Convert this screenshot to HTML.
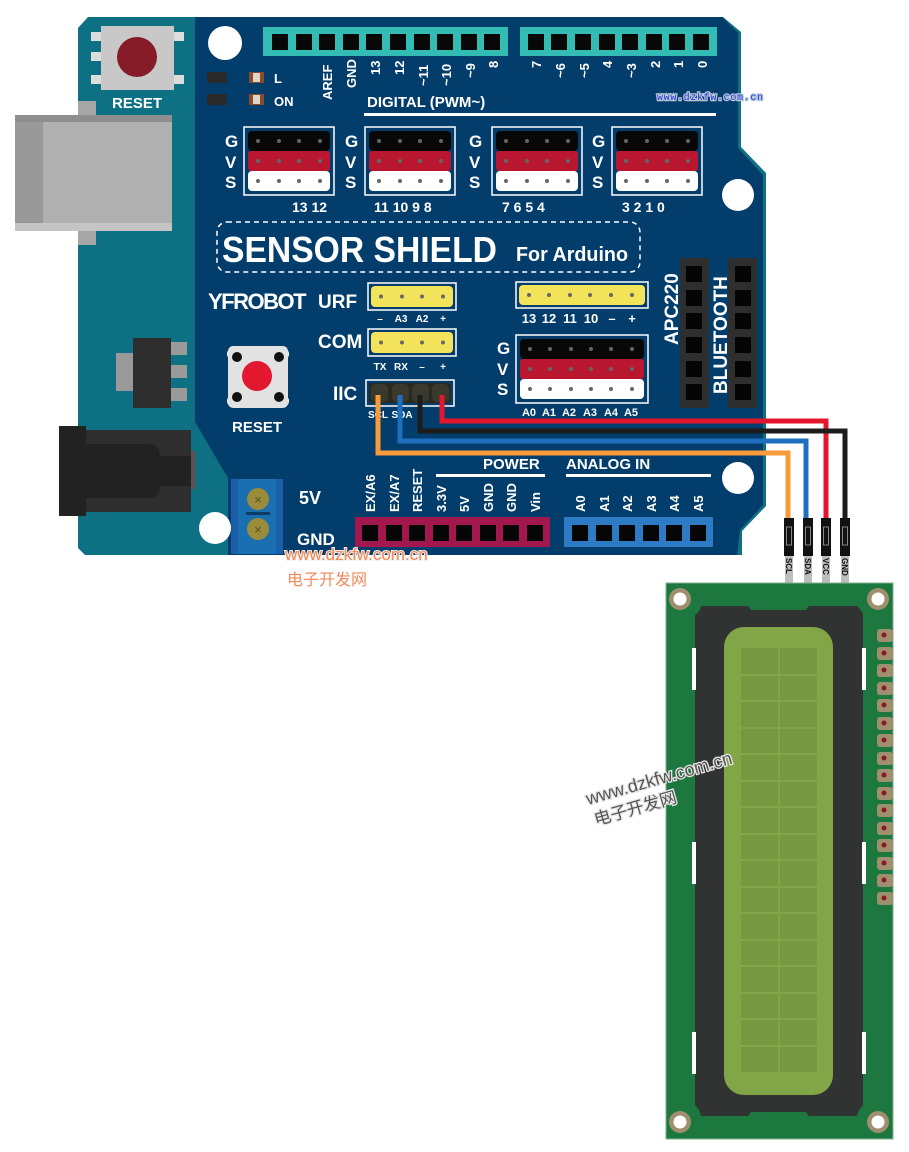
<!DOCTYPE html>
<html><head><meta charset="utf-8"><style>
html,body{margin:0;padding:0;background:#fff;}
svg{display:block;font-family:"Liberation Sans","Noto Sans CJK SC",sans-serif;}
.w{fill:#fff;font-weight:bold;}
</style></head><body>
<svg width="909" height="1152" viewBox="0 0 909 1152" xmlns="http://www.w3.org/2000/svg">
<!-- Arduino teal board -->
<polygon points="88,17 723,17 741,32 741,147 766,173 766,506 742,531 742,555 85,555 78,548 78,28" fill="#0e7083"/>
<!-- USB -->
<rect x="78" y="101" width="18" height="16" fill="#a7a7a7"/>
<rect x="78" y="228" width="18" height="17" fill="#a7a7a7"/>
<rect x="15" y="115" width="157" height="116" fill="#b0b0b0"/>
<rect x="15" y="115" width="28" height="116" fill="#999"/>
<rect x="15" y="115" width="157" height="7" fill="#8e8e8e"/>
<rect x="15" y="223" width="157" height="8" fill="#c4c4c4"/>
<!-- reset top -->
<rect x="91" y="32" width="12" height="9" fill="#ddd"/><rect x="91" y="52" width="12" height="9" fill="#ddd"/><rect x="91" y="75" width="12" height="9" fill="#ddd"/>
<rect x="172" y="32" width="12" height="9" fill="#ddd"/><rect x="172" y="75" width="12" height="9" fill="#ddd"/>
<rect x="101" y="26" width="73" height="64" fill="#c8c8c8"/>
<circle cx="137" cy="57" r="20" fill="#851c27"/>
<text x="137" y="108" class="w" font-size="15" text-anchor="middle">RESET</text>
<!-- regulator -->
<rect x="116" y="353" width="18" height="38" fill="#9a9a9a"/>
<rect x="170" y="342" width="17" height="13" fill="#9a9a9a"/><rect x="170" y="365" width="17" height="13" fill="#9a9a9a"/><rect x="170" y="388" width="17" height="13" fill="#9a9a9a"/>
<rect x="133" y="338" width="38" height="70" fill="#2e2e2e"/>
<!-- DC jack -->
<rect x="190" y="451" width="6" height="38" fill="#555"/>
<rect x="86" y="430" width="105" height="82" fill="#2e2e2e"/>
<path d="M86,444 H150 Q160,444 160,458 V485 Q160,498 150,498 H86 Z" fill="#222"/>
<rect x="150" y="456" width="41" height="30" fill="#222"/>
<rect x="59" y="426" width="27" height="90" fill="#222"/>
<!-- Shield -->
<polygon points="195,17 722,17 738,33 738,148 763,175 763,505 740,530 737,555 228,555 228,478 195,422" fill="#033d6b"/>
<!-- holes -->
<circle cx="225" cy="43" r="17" fill="#fff"/>
<circle cx="738" cy="195" r="16" fill="#fff"/>
<circle cx="738" cy="478" r="16" fill="#fff"/>
<circle cx="215" cy="528" r="16" fill="#fff"/>
<!-- top headers -->
<rect x="263" y="27" width="245" height="29" fill="#32bcb4"/>
<rect x="520" y="27" width="197" height="29" fill="#32bcb4"/>
<g fill="#080808">
<rect x="272" y="34" width="16" height="16"/><rect x="296" y="34" width="16" height="16"/><rect x="319" y="34" width="16" height="16"/><rect x="343" y="34" width="16" height="16"/><rect x="366" y="34" width="16" height="16"/><rect x="390" y="34" width="16" height="16"/><rect x="414" y="34" width="16" height="16"/><rect x="437" y="34" width="16" height="16"/><rect x="461" y="34" width="16" height="16"/><rect x="484" y="34" width="16" height="16"/>
<rect x="528" y="34" width="16" height="16"/><rect x="551" y="34" width="16" height="16"/><rect x="575" y="34" width="16" height="16"/><rect x="599" y="34" width="16" height="16"/><rect x="622" y="34" width="16" height="16"/><rect x="646" y="34" width="16" height="16"/><rect x="669" y="34" width="16" height="16"/><rect x="693" y="34" width="16" height="16"/>
</g>
<g class="w" font-size="13">
<text transform="translate(332,100) rotate(-90)">AREF</text>
<text transform="translate(356,88) rotate(-90)">GND</text>
<text transform="translate(380,75) rotate(-90)">13</text>
<text transform="translate(404,75) rotate(-90)">12</text>
<text transform="translate(428,86) rotate(-90)">~11</text>
<text transform="translate(451,86) rotate(-90)">~10</text>
<text transform="translate(475,78) rotate(-90)">~9</text>
<text transform="translate(498,68) rotate(-90)">8</text>
<text transform="translate(541,68) rotate(-90)">7</text>
<text transform="translate(565,78) rotate(-90)">~6</text>
<text transform="translate(589,78) rotate(-90)">~5</text>
<text transform="translate(612,68) rotate(-90)">4</text>
<text transform="translate(636,78) rotate(-90)">~3</text>
<text transform="translate(660,68) rotate(-90)">2</text>
<text transform="translate(683,68) rotate(-90)">1</text>
<text transform="translate(707,68) rotate(-90)">0</text>
</g>
<text x="367" y="107" class="w" font-size="15">DIGITAL  (PWM~)</text>
<rect x="364" y="113" width="352" height="3" fill="#fff"/>
<!-- LEDs -->
<rect x="207" y="72" width="20" height="11" fill="#2a2a2a"/><rect x="207" y="94" width="20" height="11" fill="#2a2a2a"/>
<rect x="249" y="72" width="15" height="11" fill="#8a4b2a"/><rect x="253" y="73" width="7" height="9" fill="#e0d4c8"/>
<rect x="249" y="94" width="15" height="11" fill="#8a4b2a"/><rect x="253" y="95" width="7" height="9" fill="#e0d4c8"/>
<text x="274" y="83" class="w" font-size="13">L</text>
<text x="274" y="106" class="w" font-size="13">ON</text>
<!-- GVS blocks -->
<defs>
<g id="gvs4">
<rect x="0" y="0" width="90" height="68" fill="none" stroke="#fff" stroke-width="1.5"/>
<rect x="4" y="4" width="82" height="20" rx="4" fill="#080808"/>
<rect x="4" y="24" width="82" height="20" rx="3" fill="#b8172f"/>
<rect x="4" y="44" width="82" height="20" rx="4" fill="#fff"/>
<g fill="#666"><circle cx="14" cy="14" r="2"/><circle cx="35" cy="14" r="2"/><circle cx="55" cy="14" r="2"/><circle cx="76" cy="14" r="2"/>
<circle cx="14" cy="34" r="2"/><circle cx="35" cy="34" r="2"/><circle cx="55" cy="34" r="2"/><circle cx="76" cy="34" r="2"/>
<circle cx="14" cy="54" r="2"/><circle cx="35" cy="54" r="2"/><circle cx="55" cy="54" r="2"/><circle cx="76" cy="54" r="2"/></g>
</g>
<g id="gvsl" class="w" font-size="17"><text x="0" y="0">G</text><text x="0" y="21">V</text><text x="0" y="41">S</text></g>
</defs>
<use href="#gvs4" x="244" y="127"/><use href="#gvs4" x="365" y="127"/><use href="#gvs4" x="492" y="127"/><use href="#gvs4" x="612" y="127"/>
<use href="#gvsl" x="225" y="147"/><use href="#gvsl" x="345" y="147"/><use href="#gvsl" x="469" y="147"/><use href="#gvsl" x="592" y="147"/>
<g class="w" font-size="14">
<text x="292" y="212">13 12</text>
<text x="374" y="212">11 10  9   8</text>
<text x="502" y="212">7   6   5   4</text>
<text x="622" y="212">3   2   1   0</text>
</g>
<!-- SENSOR SHIELD -->
<rect x="217" y="222" width="423" height="50" rx="10" fill="none" stroke="#fff" stroke-width="1.5" stroke-dasharray="5,4"/>
<text x="222" y="262" class="w" font-size="36" textLength="275" lengthAdjust="spacingAndGlyphs">SENSOR  SHIELD</text>
<text x="516" y="261" class="w" font-size="20" textLength="112" lengthAdjust="spacingAndGlyphs">For  Arduino</text>
<text x="208" y="309" class="w" font-size="22" letter-spacing="-1.5">YFROBOT</text>
<text x="318" y="308" class="w" font-size="19">URF</text>
<text x="318" y="348" class="w" font-size="19">COM</text>
<text x="333" y="400" class="w" font-size="19">IIC</text>
<!-- yellow headers -->
<defs>
<g id="y4"><rect x="0" y="0" width="88" height="27" fill="none" stroke="#fff" stroke-width="1.5"/><rect x="3" y="3" width="82" height="21" rx="4" fill="#f2e35a"/>
<g fill="#666"><circle cx="13" cy="13.5" r="2"/><circle cx="34" cy="13.5" r="2"/><circle cx="54" cy="13.5" r="2"/><circle cx="75" cy="13.5" r="2"/></g></g>
</defs>
<use href="#y4" x="368" y="283"/><use href="#y4" x="368" y="329"/>
<g class="w" font-size="10" text-anchor="middle">
<text x="380" y="322">–</text><text x="401" y="322">A3</text><text x="422" y="322">A2</text><text x="443" y="322">+</text>
<text x="380" y="370">TX</text><text x="401" y="370">RX</text><text x="422" y="370">–</text><text x="443" y="370">+</text>
<text x="378" y="418">SCL</text><text x="402" y="418">SDA</text>
</g>
<rect x="366" y="380" width="88" height="26" fill="none" stroke="#fff" stroke-width="1.5"/>
<rect x="369" y="383" width="82" height="20" rx="3" fill="#2a2a22"/>
<g fill="#39392c"><rect x="371" y="384" width="17" height="18" rx="5"/><rect x="392" y="384" width="17" height="18" rx="5"/><rect x="412" y="384" width="17" height="18" rx="5"/><rect x="432" y="384" width="17" height="18" rx="5"/></g>
<!-- right yellow 6 -->
<rect x="516" y="282" width="132" height="26" fill="none" stroke="#fff" stroke-width="1.5"/>
<rect x="519" y="285" width="126" height="20" rx="4" fill="#f2e35a"/>
<g fill="#666"><circle cx="529" cy="295" r="2"/><circle cx="549" cy="295" r="2"/><circle cx="570" cy="295" r="2"/><circle cx="590" cy="295" r="2"/><circle cx="611" cy="295" r="2"/><circle cx="632" cy="295" r="2"/></g>
<g class="w" font-size="13" text-anchor="middle"><text x="529" y="323">13</text><text x="549" y="323">12</text><text x="570" y="323">11</text><text x="591" y="323">10</text><text x="612" y="323">–</text><text x="632" y="323">+</text></g>
<!-- GVS 6 -->
<rect x="516" y="335" width="132" height="68" fill="none" stroke="#fff" stroke-width="1.5"/>
<rect x="520" y="339" width="124" height="20" rx="4" fill="#080808"/>
<rect x="520" y="359" width="124" height="20" rx="3" fill="#b8172f"/>
<rect x="520" y="379" width="124" height="20" rx="4" fill="#fff"/>
<g fill="#666">
<circle cx="530" cy="349" r="2"/><circle cx="550" cy="349" r="2"/><circle cx="571" cy="349" r="2"/><circle cx="591" cy="349" r="2"/><circle cx="611" cy="349" r="2"/><circle cx="632" cy="349" r="2"/>
<circle cx="530" cy="369" r="2"/><circle cx="550" cy="369" r="2"/><circle cx="571" cy="369" r="2"/><circle cx="591" cy="369" r="2"/><circle cx="611" cy="369" r="2"/><circle cx="632" cy="369" r="2"/>
<circle cx="530" cy="389" r="2"/><circle cx="550" cy="389" r="2"/><circle cx="571" cy="389" r="2"/><circle cx="591" cy="389" r="2"/><circle cx="611" cy="389" r="2"/><circle cx="632" cy="389" r="2"/></g>
<use href="#gvsl" x="497" y="354"/>
<g class="w" font-size="11" text-anchor="middle"><text x="529" y="416">A0</text><text x="549" y="416">A1</text><text x="569" y="416">A2</text><text x="590" y="416">A3</text><text x="611" y="416">A4</text><text x="631" y="416">A5</text></g>
<!-- APC220 / BT -->
<rect x="680" y="258" width="29" height="150" fill="#2e2e2e"/>
<rect x="728" y="258" width="29" height="150" fill="#2e2e2e"/>
<g fill="#050505">
<rect x="686" y="266" width="16" height="16"/><rect x="686" y="290" width="16" height="16"/><rect x="686" y="313" width="16" height="16"/><rect x="686" y="337" width="16" height="16"/><rect x="686" y="361" width="16" height="16"/><rect x="686" y="384" width="16" height="16"/>
<rect x="735" y="266" width="16" height="16"/><rect x="735" y="290" width="16" height="16"/><rect x="735" y="313" width="16" height="16"/><rect x="735" y="337" width="16" height="16"/><rect x="735" y="361" width="16" height="16"/><rect x="735" y="384" width="16" height="16"/>
</g>
<text transform="translate(678,345) rotate(-90)" class="w" font-size="19">APC220</text>
<text transform="translate(727,394) rotate(-90)" class="w" font-size="19">BLUETOOTH</text>
<!-- reset shield -->
<circle cx="233" cy="354" r="5" fill="none" stroke="#fff" stroke-width="2"/><circle cx="283" cy="354" r="5" fill="none" stroke="#fff" stroke-width="2"/>
<circle cx="233" cy="401" r="5" fill="none" stroke="#fff" stroke-width="2"/><circle cx="283" cy="401" r="5" fill="none" stroke="#fff" stroke-width="2"/>
<rect x="228" y="346" width="60" height="62" rx="5" fill="#e2e2e2"/>
<circle cx="237" cy="357" r="5" fill="#111"/><circle cx="279" cy="357" r="5" fill="#111"/><circle cx="237" cy="397" r="5" fill="#111"/><circle cx="279" cy="397" r="5" fill="#111"/>
<circle cx="257" cy="376" r="15" fill="#e3172f"/>
<text x="257" y="432" class="w" font-size="15" text-anchor="middle">RESET</text>
<!-- terminal -->
<rect x="231" y="479" width="52" height="75" fill="#1c5ea8"/>
<rect x="238" y="479" width="38" height="75" fill="#1a6fb0"/>
<circle cx="258" cy="499" r="11" fill="#9a8c3a"/><circle cx="258" cy="529" r="11" fill="#9a8c3a"/>
<rect x="246" y="512" width="24" height="3" fill="#0d3d66"/>
<text x="258" y="504" text-anchor="middle" font-size="13" fill="#5a5220">×</text><text x="258" y="534" text-anchor="middle" font-size="13" fill="#5a5220">×</text>
<text x="299" y="504" class="w" font-size="18">5V</text>
<text x="297" y="545" class="w" font-size="17">GND</text>
<!-- power / analog -->
<text x="483" y="469" class="w" font-size="15">POWER</text>
<rect x="436" y="474" width="109" height="3" fill="#fff"/>
<text x="566" y="469" class="w" font-size="15">ANALOG  IN</text>
<rect x="566" y="474" width="145" height="3" fill="#fff"/>
<g class="w" font-size="13">
<text transform="translate(375,512) rotate(-90)">EX/A6</text>
<text transform="translate(399,512) rotate(-90)">EX/A7</text>
<text transform="translate(422,512) rotate(-90)">RESET</text>
<text transform="translate(446,512) rotate(-90)">3.3V</text>
<text transform="translate(469,512) rotate(-90)">5V</text>
<text transform="translate(493,512) rotate(-90)">GND</text>
<text transform="translate(516,512) rotate(-90)">GND</text>
<text transform="translate(540,512) rotate(-90)">Vin</text>
<text transform="translate(585,512) rotate(-90)">A0</text>
<text transform="translate(609,512) rotate(-90)">A1</text>
<text transform="translate(632,512) rotate(-90)">A2</text>
<text transform="translate(656,512) rotate(-90)">A3</text>
<text transform="translate(679,512) rotate(-90)">A4</text>
<text transform="translate(703,512) rotate(-90)">A5</text>
</g>
<rect x="355" y="517" width="195" height="30" fill="#a3174f"/>
<rect x="564" y="517" width="149" height="30" fill="#2d7bc4"/>
<g fill="#060606">
<rect x="362" y="525" width="16" height="16"/><rect x="386" y="525" width="16" height="16"/><rect x="409" y="525" width="16" height="16"/><rect x="433" y="525" width="16" height="16"/><rect x="456" y="525" width="16" height="16"/><rect x="480" y="525" width="16" height="16"/><rect x="503" y="525" width="16" height="16"/><rect x="527" y="525" width="16" height="16"/>
<rect x="572" y="525" width="16" height="16"/><rect x="596" y="525" width="16" height="16"/><rect x="619" y="525" width="16" height="16"/><rect x="643" y="525" width="16" height="16"/><rect x="666" y="525" width="16" height="16"/><rect x="690" y="525" width="16" height="16"/>
</g>
<!-- wires -->
<g fill="none" stroke-width="5" stroke-linejoin="miter">
<polyline points="442,395 442,421 826,421 826,522" stroke="#e3162e"/>
<polyline points="420,395 420,431 845,431 845,522" stroke="#1c1c1c"/>
<polyline points="400,395 400,441 806,441 806,522" stroke="#1e6fbf"/>
<polyline points="378,395 378,453 788,453 788,522" stroke="#f89a3a"/>
</g>
<!-- connectors -->
<g>
<rect x="785" y="556" width="8" height="28" fill="#bdbdbd"/><rect x="804" y="556" width="8" height="28" fill="#bdbdbd"/><rect x="822" y="556" width="8" height="28" fill="#bdbdbd"/><rect x="841" y="556" width="8" height="28" fill="#bdbdbd"/>
<rect x="784" y="518" width="10" height="38" fill="#111"/><rect x="803" y="518" width="10" height="38" fill="#111"/><rect x="821" y="518" width="10" height="38" fill="#111"/><rect x="840" y="518" width="10" height="38" fill="#111"/>
<g fill="none" stroke="#888" stroke-width="1"><rect x="786.5" y="527" width="5" height="18"/><rect x="805.5" y="527" width="5" height="18"/><rect x="823.5" y="527" width="5" height="18"/><rect x="842.5" y="527" width="5" height="18"/></g>
<g font-size="8" font-weight="bold" fill="#111">
<text transform="translate(786,558) rotate(90)">SCL</text><text transform="translate(805,558) rotate(90)">SDA</text><text transform="translate(823,558) rotate(90)">VCC</text><text transform="translate(842,558) rotate(90)">GND</text>
</g>
</g>
<!-- LCD -->
<rect x="666" y="583" width="227" height="556" fill="#1c783f"/>
<rect x="666" y="583" width="227" height="556" fill="none" stroke="#7fb08c" stroke-width="1"/>
<g fill="#9f8f6f"><circle cx="680" cy="599" r="11"/><circle cx="878" cy="599" r="11"/><circle cx="680" cy="1122" r="11"/><circle cx="878" cy="1122" r="11"/></g>
<g fill="#fff"><circle cx="680" cy="599" r="6.5"/><circle cx="878" cy="599" r="6.5"/><circle cx="680" cy="1122" r="6.5"/><circle cx="878" cy="1122" r="6.5"/></g>
<path d="M701,606 H748 L751,610 H806 L809,606 H857 Q863,612 863,615 V1105 Q858,1110 857,1116 H809 L806,1112 H751 L748,1116 H701 Q700,1110 695,1105 V615 Q700,612 701,606 Z" fill="#313332"/>
<rect x="692" y="648" width="4" height="42" fill="#fff"/><rect x="692" y="842" width="4" height="42" fill="#fff"/><rect x="692" y="1032" width="4" height="42" fill="#fff"/>
<rect x="862" y="648" width="4" height="42" fill="#fff"/><rect x="862" y="842" width="4" height="42" fill="#fff"/><rect x="862" y="1032" width="4" height="42" fill="#fff"/>
<rect x="724" y="627" width="109" height="468" rx="20" fill="#82a647"/>
<rect x="741" y="648" width="76" height="424" fill="#779841"/>
<g stroke="#82a647" stroke-width="2">
<line x1="779" y1="648" x2="779" y2="1072"/>
<line x1="741" y1="675" x2="817" y2="675"/><line x1="741" y1="701" x2="817" y2="701"/><line x1="741" y1="728" x2="817" y2="728"/><line x1="741" y1="754" x2="817" y2="754"/><line x1="741" y1="781" x2="817" y2="781"/><line x1="741" y1="807" x2="817" y2="807"/><line x1="741" y1="834" x2="817" y2="834"/><line x1="741" y1="860" x2="817" y2="860"/><line x1="741" y1="887" x2="817" y2="887"/><line x1="741" y1="913" x2="817" y2="913"/><line x1="741" y1="940" x2="817" y2="940"/><line x1="741" y1="966" x2="817" y2="966"/><line x1="741" y1="993" x2="817" y2="993"/><line x1="741" y1="1019" x2="817" y2="1019"/><line x1="741" y1="1046" x2="817" y2="1046"/>
</g>
<g fill="#9f8f6f">
<rect x="877" y="629" width="16" height="13" rx="3"/><rect x="877" y="647" width="16" height="13" rx="3"/><rect x="877" y="664" width="16" height="13" rx="3"/><rect x="877" y="682" width="16" height="13" rx="3"/><rect x="877" y="699" width="16" height="13" rx="3"/><rect x="877" y="717" width="16" height="13" rx="3"/><rect x="877" y="734" width="16" height="13" rx="3"/><rect x="877" y="752" width="16" height="13" rx="3"/><rect x="877" y="769" width="16" height="13" rx="3"/><rect x="877" y="787" width="16" height="13" rx="3"/><rect x="877" y="804" width="16" height="13" rx="3"/><rect x="877" y="822" width="16" height="13" rx="3"/><rect x="877" y="839" width="16" height="13" rx="3"/><rect x="877" y="857" width="16" height="13" rx="3"/><rect x="877" y="874" width="16" height="13" rx="3"/><rect x="877" y="892" width="16" height="13" rx="3"/>
</g>
<g fill="#8a1a24">
<circle cx="884" cy="635" r="2.5"/><circle cx="884" cy="653" r="2.5"/><circle cx="884" cy="670" r="2.5"/><circle cx="884" cy="688" r="2.5"/><circle cx="884" cy="705" r="2.5"/><circle cx="884" cy="723" r="2.5"/><circle cx="884" cy="740" r="2.5"/><circle cx="884" cy="758" r="2.5"/><circle cx="884" cy="775" r="2.5"/><circle cx="884" cy="793" r="2.5"/><circle cx="884" cy="810" r="2.5"/><circle cx="884" cy="828" r="2.5"/><circle cx="884" cy="845" r="2.5"/><circle cx="884" cy="863" r="2.5"/><circle cx="884" cy="880" r="2.5"/><circle cx="884" cy="898" r="2.5"/>
</g>
<!-- watermarks -->
<text x="657" y="100" font-family="Liberation Mono, monospace" font-size="10" fill="#2233dd" stroke="#b8c8d8" stroke-width="2.5" paint-order="stroke" textLength="106">www.dzkfw.com.cn</text>
<text x="285" y="560" font-size="17" fill="#f08a5a" stroke="#f4eee8" stroke-width="2" paint-order="stroke">www.dzkfw.com.cn</text>
<text x="287" y="585" font-size="16" fill="#f08a5a">电子开发网</text>
<g transform="translate(588,805) rotate(-16)" fill="#555" stroke="#e8e8e8" stroke-width="2.5" paint-order="stroke">
<text x="0" y="0" font-size="18">www.dzkfw.com.cn</text>
<text x="2" y="22" font-size="17">电子开发网</text>
</g>
</svg>
</body></html>
